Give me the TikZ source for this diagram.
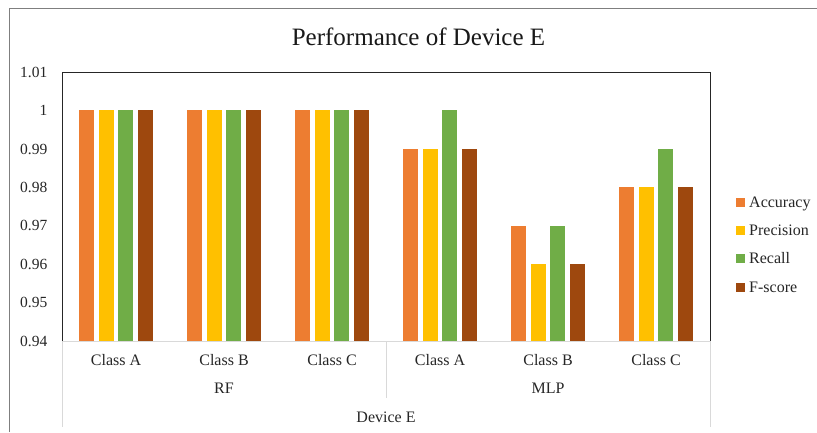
\documentclass[tikz,border=0pt]{standalone}
\usepackage{fontspec}
\setmainfont{Liberation Serif}
\definecolor{cacc}{HTML}{ED7D31}
\definecolor{cpre}{HTML}{FFC000}
\definecolor{crec}{HTML}{70AD47}
\definecolor{cfs}{HTML}{9E480E}
\definecolor{axisgray}{HTML}{D9D9D9}
\definecolor{framegray}{HTML}{7F7F7F}
\definecolor{plotline}{HTML}{262626}
\begin{document}
\begin{tikzpicture}[x=1pt,y=-1pt,
  ticklbl/.style={font=\fontsize{15.5}{18}\selectfont, anchor=base east, inner sep=0pt, text=black!85},
  catlbl/.style={font=\fontsize{16}{19}\selectfont, anchor=base, inner sep=0pt, text=black!85},
  leglbl/.style={font=\fontsize{16}{19}\selectfont, anchor=base west, inner sep=0pt, text=black!85},
  titlelbl/.style={font=\fontsize{25}{30}\selectfont, anchor=base, inner sep=0pt, text=black!90},
  sep/.style={draw=axisgray, line width=1pt}]
\useasboundingbox (0,0) rectangle (817,432);
\fill[white] (0,0) rectangle (817,432);
% chart frame
\draw[framegray, line width=1pt] (9,432) -- (9,8) -- (817,8);
% title
\node[titlelbl] (title) at (418.5,45) {Performance of Device E};
% bars: 6 category groups, 4 metrics each
\foreach \g/\a/\b/\c/\d in {0/1/1/1/1, 1/1/1/1/1, 2/1/1/1/1,
                             3/0.99/0.99/1/0.99, 4/0.97/0.96/0.97/0.96, 5/0.98/0.98/0.99/0.98} {
  \foreach \v/\i/\col in {\a/0/cacc, \b/1/cpre, \c/2/crec, \d/3/cfs} {
    \pgfmathsetmacro\xl{116+108*\g+(\i-1.5)*19.6-7.5}
    \pgfmathsetmacro\yt{341-(\v-0.94)*3842.857}
    \fill[\col] (\xl,341) rectangle (\xl+15,\yt);
  }
}
% plot area border and category axis
\draw[axisgray, line width=1pt] (62,341) -- (710,341);
\draw[plotline, line width=1pt] (62,341) -- (62,72) -- (710,72) -- (710,341);
\draw[sep] (62,341) -- (62,427);
\draw[sep] (386,341) -- (386,398);
\draw[sep] (710,341) -- (710,427);
% value axis labels
\foreach \v/\t in {1.01/1.01, 1/1, 0.99/0.99, 0.98/0.98, 0.97/0.97, 0.96/0.96, 0.95/0.95, 0.94/0.94} {
  \pgfmathsetmacro\yy{341-(\v-0.94)*3842.857+5.2}
  \node[ticklbl] at (47.5,\yy) {\t};
}
% category labels
\foreach \g/\t in {0/Class A, 1/Class B, 2/Class C, 3/Class A, 4/Class B, 5/Class C} {
  \node[catlbl] (cat\g) at ({116+108*\g},365) {\t};
}
\node[catlbl] (rf) at (224,393.7) {RF};
\node[catlbl] (mlp) at (548,393.7) {MLP};
\node[catlbl] (dev) at (386,422.3) {Device E};
% legend
\foreach \i/\col/\t in {0/cacc/Accuracy, 1/cpre/Precision, 2/crec/Recall, 3/cfs/F-score} {
  \pgfmathsetmacro\yb{207.3+28.3*\i}
  \fill[\col] (736,\yb-9.5) rectangle (745,\yb-0.5);
  \node[leglbl] (leg\i) at (749,\yb) {\t};
}
\end{tikzpicture}
\end{document}
